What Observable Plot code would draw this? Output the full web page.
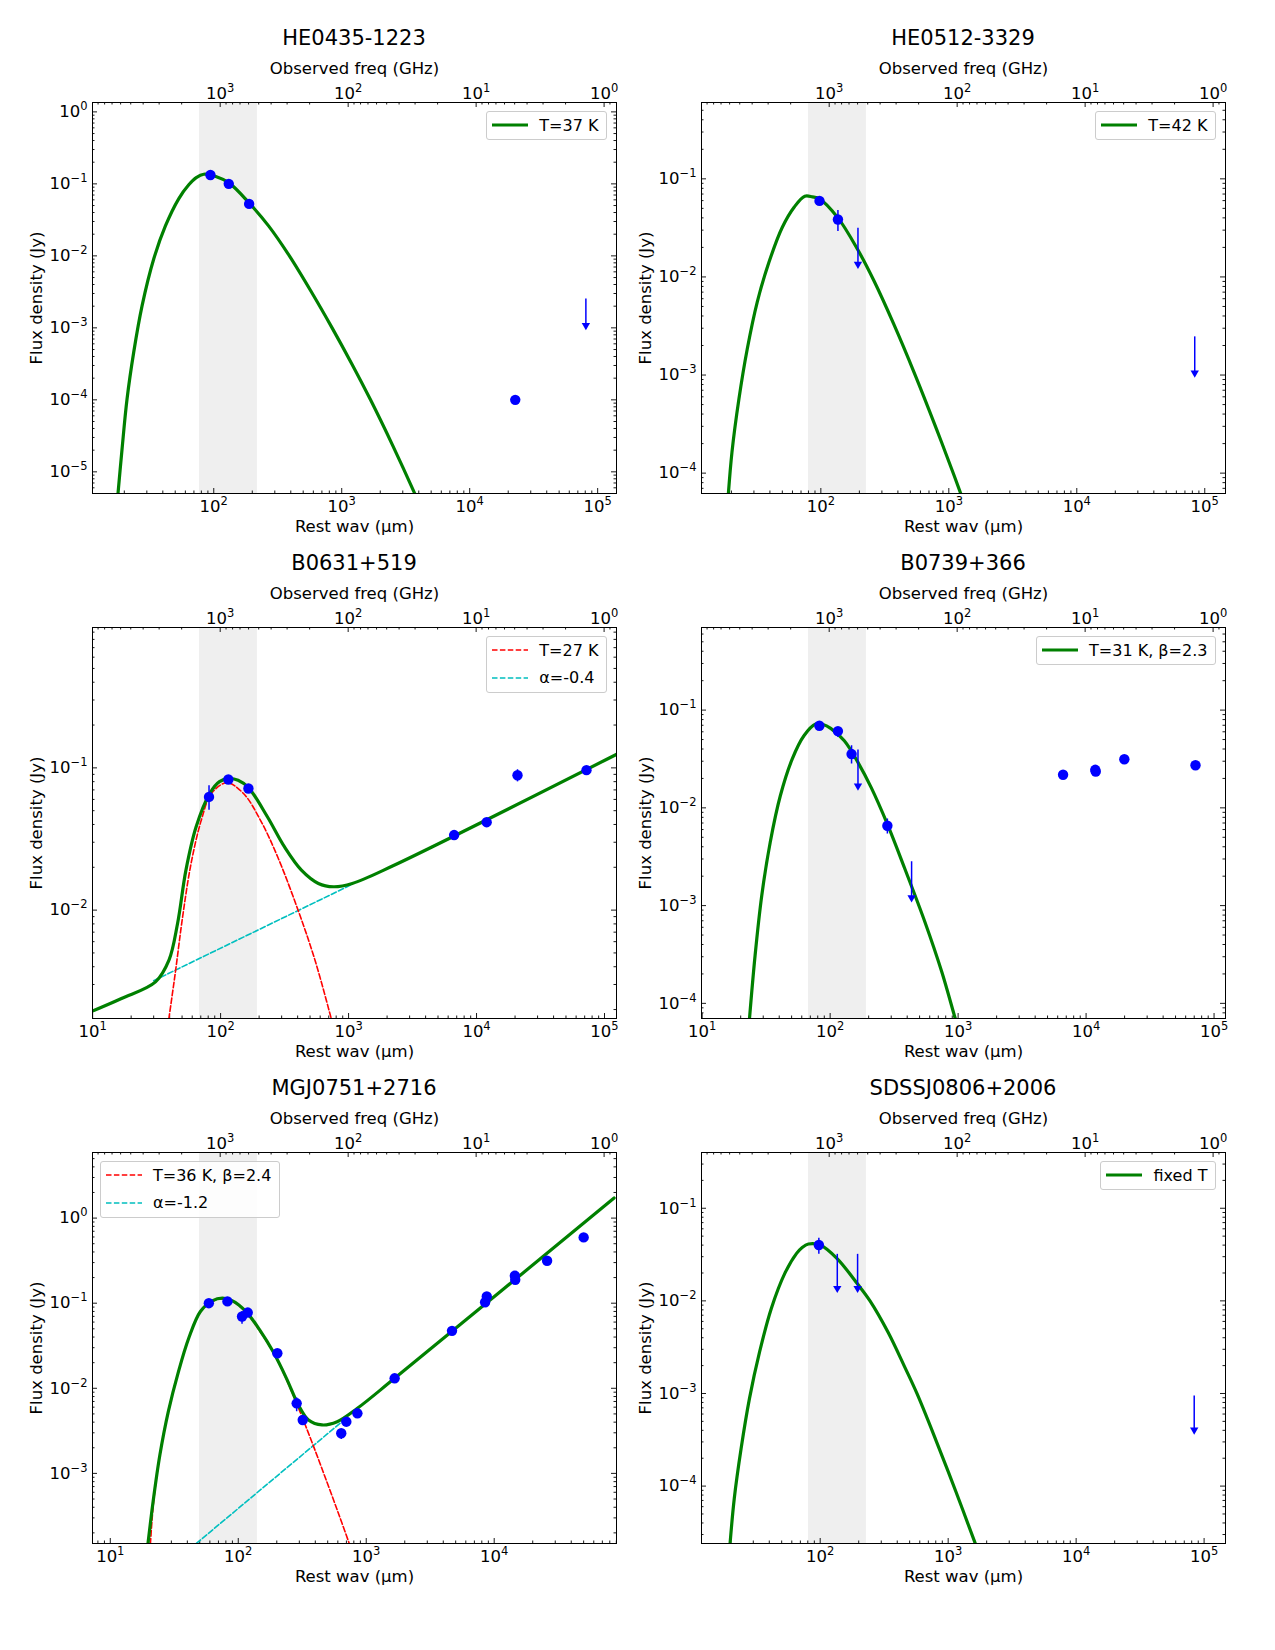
<!DOCTYPE html>
<html>
<head>
<meta charset="utf-8">
<script src="https://cdn.jsdelivr.net/npm/d3@7"></script>
<script src="https://cdn.jsdelivr.net/npm/@observablehq/plot@0.6"></script>
<style>
  body { margin: 0; background: #fff; font-family: "DejaVu Sans", sans-serif; color: #000; }
  #page { position: relative; width: 1275px; height: 1650px; overflow: hidden; }
  .panel { position: absolute; width: 628px; height: 543px; }
  .panel svg.chart { position: absolute; left: 0; top: 47px; overflow: visible; }
  .title { position: absolute; left: 92px; width: 524px; top: 26px; text-align: center;
           font-size: 21px; line-height: 24px; }
  .legend { position: absolute; border: 1px solid #cccccc; border-radius: 3px;
            background: rgba(255,255,255,0.85); padding: 0 8px 0 5px; font-size: 16px; }
  .legend .row { display: flex; align-items: center; height: 27.5px; white-space: nowrap; }
  .legend .row svg { margin-right: 11px; flex: none; }
</style>
</head>
<body>
<div id="page"></div>
<script>
// ---- shared settings -------------------------------------------------------
const sources   = ["HE0435-1223", "HE0512-3329", "B0631+519", "B0739+366", "MGJ0751+2716", "SDSSJ0806+2006"];
const redshifts = [1.67, 1.58, 2.02, 2.05, 3.15, 1.55];
const fluxLimits = [[5e-6, 1.35], [6.2e-5, 0.6], [1.73e-3, 0.97], [7.0e-5, 0.70], [1.5e-4, 5.9], [2.4e-5, 0.40]];
const freqLimits = [9950, 0.8];          // observed GHz, left to right
const freqTicks  = [1000, 100, 10, 1];   // labelled observed-frequency ticks
const bandGHz    = [1450, 512];          // shaded observed band

// ---- HE0435-1223 : [rest µm, Jy, err lo, err hi] ---------------------------
const he0435Det = [[94.2, 0.133], [131, 0.100], [189, 0.0527], [22700, 1.0e-4]];
const he0435Lim = [[80900, 2.52e-3]];
const he0435Fit = [[17.7, 4.2e-6], [19.2, 2.06e-5], [21.0, 1.02e-4], [23.7, 4.6e-4], [27.5, 2.0e-3],
  [34.0, 9.1e-3], [41.9, 0.026], [53.2, 0.062], [63.8, 0.097], [73, 0.122], [83.5, 0.136], [105, 0.126],
  [131, 0.104], [189, 0.0544], [270, 0.0257], [390, 0.0100], [580, 3.15e-3], [841, 1.0e-3],
  [1200, 3.15e-4], [1679, 1.0e-4], [2500, 2.33e-5], [3663, 5.3e-6], [3900, 4.1e-6]];

// ---- HE0512-3329 ----------------------------------------------------------
const he0512Det = [[97.6, 0.0596], [136, 0.0385, 0.029, 0.0475]];
const he0512Lim = [[195, 0.0314], [83500, 2.45e-3]];
const he0512Fit = [[18.8, 5.4e-5], [20.2, 1.63e-4], [22.9, 5.69e-4], [26.6, 1.84e-3], [31.8, 5.51e-3],
  [39.3, 0.0141], [50.0, 0.0321], [61.8, 0.0514], [74.9, 0.0665], [86, 0.0655], [97.6, 0.0625],
  [136, 0.040], [195, 0.0188], [260, 9.14e-3], [370, 3.34e-3], [541, 1.03e-3], [800, 2.83e-4],
  [1102, 9.4e-5], [1256, 5.9e-5], [1320, 4.9e-5]];

// ---- B0631+519 ------------------------------------------------------------
const b0631Det = [[81.2, 0.0625, 0.0504, 0.0748], [115, 0.0828], [165, 0.0716], [6680, 0.0337],
  [12000, 0.0415], [20900, 0.0888, 0.0797, 0.097], [72300, 0.0964]];
const b0631Lim = [];
const b0631Fit = [[9.7, 1.93e-3], [16.8, 2.39e-3], [31.0, 3.13e-3], [39.5, 4.45e-3], [46.1, 8.05e-3],
  [53.6, 0.0191], [64.4, 0.0385], [82.2, 0.066], [98, 0.080], [115, 0.0841], [137, 0.0819],
  [165, 0.0727], [232, 0.0453], [315, 0.0279], [428, 0.0191], [581, 0.0154], [764, 0.0146],
  [1069, 0.0154], [2225, 0.0205], [125300, 0.125]];
const b0631Dust = [[38.6, 1.51e-3], [44.2, 3.59e-3], [50.5, 8.98e-3], [58.8, 0.0213], [70.6, 0.0428],
  [84.8, 0.066], [111.6, 0.0785], [151, 0.066], [205, 0.0428], [279, 0.0237], [403, 0.0100],
  [546, 4.46e-3], [732, 1.73e-3], [755, 1.56e-3]];
const b0631Sync = [[30.0, 3.19e-3], [1038, 0.0150]];

// ---- B0739+366 ------------------------------------------------------------
const b0739Det = [[82.4, 0.0692], [115, 0.061, 0.0525, 0.0665], [147, 0.0355, 0.0281, 0.0432],
  [280, 6.56e-3, 5.4e-3, 7.7e-3], [6610, 0.0218], [11800, 0.0245], [11900, 0.0235],
  [19900, 0.0314], [71600, 0.0273]];
const b0739Lim = [[165, 0.039], [433, 2.81e-3]];
const b0739Fit = [[23.3, 6.4e-5], [25.9, 3.07e-4], [29.2, 1.26e-3], [34.0, 4.43e-3], [40.8, 0.0133],
  [50.5, 0.0315], [62.4, 0.0546], [77.1, 0.0719], [88, 0.0713], [101, 0.065], [129, 0.0485],
  [165, 0.0292], [209, 0.0162], [280, 6.82e-3], [384, 2.37e-3], [552, 6.73e-4], [748, 2.07e-4],
  [941, 7.3e-5], [970, 6.4e-5]];

// ---- MGJ0751+2716 ---------------------------------------------------------
const mgj0751Det = [[58.9, 0.100], [82.3, 0.105], [107, 0.0697, 0.0566, 0.080], [118.6, 0.0776],
  [202, 0.0258], [286, 6.66e-3, 5.3e-3, 7.7e-3], [319, 4.24e-3], [638, 2.96e-3, 2.5e-3, 3.3e-3],
  [699, 4.05e-3], [853, 5.08e-3], [1667, 0.0131], [4680, 0.0473], [8490, 0.1027], [8750, 0.1198],
  [14500, 0.21], [14600, 0.188], [25900, 0.315], [50000, 0.593]];
const mgj0751Lim = [];
const mgj0751Fit = [[19.5, 1.31e-4], [21.6, 4.64e-4], [24.4, 1.64e-3], [28.4, 5.31e-3], [34.1, 0.0157],
  [41.0, 0.0387], [50.6, 0.0798], [62.6, 0.1066], [75.2, 0.1145], [90.2, 0.1066], [115, 0.0798],
  [147, 0.0486], [187, 0.027], [238, 0.0131], [295, 6.37e-3], [354, 4.24e-3], [451, 3.71e-3],
  [593, 4.05e-3], [853, 5.82e-3], [1667, 0.0131], [86500, 1.72]];
const mgj0751Dust = [[20.4, 1.2e-4], [21.8, 4.64e-4], [24.4, 1.64e-3], [28.4, 5.31e-3], [34.1, 0.0157],
  [41.0, 0.0387], [50.6, 0.0790], [62.6, 0.1050], [75.2, 0.1125], [90.2, 0.1045], [115, 0.0780],
  [147, 0.0472], [189, 0.026], [242, 0.012], [304, 5.28e-3], [387, 2.09e-3], [494, 7.85e-4],
  [611, 3.29e-4], [733, 1.53e-4], [760, 1.31e-4]];
const mgj0751Sync = [[42.2, 1.31e-4], [670, 4.24e-3]];

// ---- SDSSJ0806+2006 -------------------------------------------------------
const sdss0806Det = [[97.6, 0.0401, 0.0318, 0.0474]];
const sdss0806Lim = [[136, 0.0318], [196, 0.0318], [83700, 9.4e-4]];
const sdss0806Fit = [[19.6, 2.1e-5], [21.3, 7.3e-5], [24.1, 2.54e-4], [28.0, 8.8e-4], [33.6, 2.81e-3],
  [41.5, 8.28e-3], [52.9, 0.0198], [65.4, 0.0326], [72, 0.0375], [80.9, 0.0411], [100, 0.0401],
  [135, 0.0288], [196, 0.0152], [245, 0.0100], [340, 4.55e-3], [460, 1.90e-3], [570, 1.0e-3],
  [800, 3.16e-4], [1150, 8.7e-5], [1625, 2.42e-5], [1700, 2.05e-5]];

// ---- legend entries -------------------------------------------------------
const legendEntries = [
  [["fit", "T=37 K"]],
  [["fit", "T=42 K"]],
  [["dust", "T=27 K"], ["sync", "α=-0.4"]],
  [["fit", "T=31 K, β=2.3"]],
  [["dust", "T=36 K, β=2.4"], ["sync", "α=-1.2"]],
  [["fit", "fixed T"]]
];

// ---- drawing --------------------------------------------------------------
const C_UM_GHZ = 2.998e5;       // c in µm·GHz
const LIMIT_ARROW = 0.43;       // arrow tip relative to the limit value
const BLUE = "#0000ff", GREEN = "#008000", RED = "#ff0000", CYAN = "#00bfbf";
const DASH = "5.5,2.4";
const LABEL_SIZE = 16.5;
const FRAME_W = 524, FRAME_H = 391;
const M = {left: 92, right: 12, top: 55, bottom: 50};
const COL_LEFT = [92, 701], ROW_TOP = [102, 627, 1152];
const NS = "http://www.w3.org/2000/svg";

const panels = [
  {det: he0435Det, lim: he0435Lim, fit: he0435Fit},
  {det: he0512Det, lim: he0512Lim, fit: he0512Fit},
  {det: b0631Det, lim: b0631Lim, fit: b0631Fit, dust: b0631Dust, sync: b0631Sync},
  {det: b0739Det, lim: b0739Lim, fit: b0739Fit},
  {det: mgj0751Det, lim: mgj0751Lim, fit: mgj0751Fit, dust: mgj0751Dust, sync: mgj0751Sync, legendLeft: true},
  {det: sdss0806Det, lim: sdss0806Lim, fit: sdss0806Fit}
];

const expLabel = v => "10^" + Math.round(Math.log10(v));

function decades([a, b]) {
  const lo = Math.min(a, b), hi = Math.max(a, b), out = [];
  for (let k = Math.ceil(Math.log10(lo) - 1e-9); k <= Math.floor(Math.log10(hi) + 1e-9); k++) out.push(Math.pow(10, k));
  return out;
}
function minors([a, b]) {
  const lo = Math.min(a, b), hi = Math.max(a, b), out = [];
  for (let k = Math.floor(Math.log10(lo)); k <= Math.ceil(Math.log10(hi)); k++)
    for (let m = 2; m <= 9; m++) { const v = m * Math.pow(10, k); if (v >= lo && v <= hi) out.push(v); }
  return out;
}

// inward ticks on the frame edges
function tickRules(xVals, yVals, len, top) {
  const s = {stroke: "#000", strokeWidth: 0.9};
  const marks = [
    Plot.ruleY(yVals, {y: d => d, insetRight: FRAME_W - len, ...s}),
    Plot.ruleY(yVals, {y: d => d, insetLeft: FRAME_W - len, ...s})
  ];
  marks.push(top
    ? Plot.ruleX(xVals, {x: d => d, insetBottom: FRAME_H - len, ...s})
    : Plot.ruleX(xVals, {x: d => d, insetTop: FRAME_H - len, ...s}));
  return marks;
}

// turn "10^k" labels into 10 with a raised exponent
function raiseExponents(svg) {
  svg.querySelectorAll("text").forEach(t => {
    const m = /^10\^(-?\d+)$/.exec(t.textContent);
    if (!m) return;
    t.textContent = "10";
    const ts = document.createElementNS(NS, "tspan");
    ts.setAttribute("dy", "-7");
    ts.setAttribute("font-size", "11.5");
    ts.textContent = m[1].replace("-", "\u2212");
    t.appendChild(ts);
  });
}

function drawPanel(p, i) {
  const zf = 1 + redshifts[i];
  const toRest = f => C_UM_GHZ / (f * zf);
  const xDomain = [toRest(freqLimits[0]), toRest(freqLimits[1])];
  const yDomain = fluxLimits[i];
  const xMaj = decades(xDomain), xMin = minors(xDomain);
  const yMaj = decades(yDomain), yMin = minors(yDomain);
  const fMaj = freqTicks.map(toRest);
  const fMin = minors(freqLimits).map(toRest);
  const errs = p.det.filter(d => d[2] != null);

  const marks = [
    Plot.rect([bandGHz], {x1: d => toRest(d[0]), x2: d => toRest(d[1]), fill: "#efefef"}),
    ...tickRules(xMaj, yMaj, 5, false),
    ...tickRules(xMin, yMin, 2.5, false),
    ...tickRules(fMaj, [], 5, true),
    ...tickRules(fMin, [], 2.5, true)
  ];
  if (p.sync) marks.push(Plot.line(p.sync, {x: d => d[0], y: d => d[1], stroke: CYAN, strokeWidth: 1.6, strokeDasharray: DASH, clip: true}));
  if (p.dust) marks.push(Plot.line(p.dust, {x: d => d[0], y: d => d[1], stroke: RED, strokeWidth: 1.6, strokeDasharray: DASH, curve: "catmull-rom", clip: true}));
  marks.push(
    Plot.line(p.fit, {x: d => d[0], y: d => d[1], stroke: GREEN, strokeWidth: 3.2, curve: "catmull-rom", clip: true}),
    Plot.ruleX(errs, {x: d => d[0], y1: d => d[2], y2: d => d[3], stroke: BLUE, strokeWidth: 1.5}),
    Plot.ruleX(p.lim, {x: d => d[0], y1: d => d[1], y2: d => d[1] * LIMIT_ARROW, stroke: BLUE, strokeWidth: 1.5}),
    Plot.dot(p.lim, {x: d => d[0], y: d => d[1] * LIMIT_ARROW, symbol: "triangle", rotate: 180, r: 3.1, fill: BLUE, stroke: "none"}),
    Plot.dot(p.det, {x: d => d[0], y: d => d[1], r: 5.2, fill: BLUE, stroke: "none"}),
    Plot.frame({stroke: "#000", strokeWidth: 1}),
    // tick labels
    Plot.text(xMaj, {x: d => d, frameAnchor: "bottom", dy: 7, lineAnchor: "top", text: expLabel, fontSize: LABEL_SIZE}),
    Plot.text(fMaj, {x: d => d, frameAnchor: "top", dy: -4, lineAnchor: "bottom", text: d => expLabel(C_UM_GHZ / (d * zf)), fontSize: LABEL_SIZE}),
    Plot.text(yMaj, {y: d => d, frameAnchor: "left", dx: -5, textAnchor: "end", lineAnchor: "middle", text: expLabel, fontSize: LABEL_SIZE}),
    // axis titles
    Plot.text(["Rest wav (μm)"], {text: d => d, frameAnchor: "bottom", dy: 33, textAnchor: "middle", lineAnchor: "middle", fontSize: LABEL_SIZE}),
    Plot.text(["Observed freq (GHz)"], {text: d => d, frameAnchor: "top", dy: -34, textAnchor: "middle", lineAnchor: "middle", fontSize: LABEL_SIZE}),
    Plot.text(["Flux density (Jy)"], {text: d => d, frameAnchor: "left", dx: -56, rotate: -90, textAnchor: "middle", lineAnchor: "middle", fontSize: LABEL_SIZE})
  );

  const svg = Plot.plot({
    width: M.left + FRAME_W + M.right,
    height: M.top + FRAME_H + M.bottom,
    marginLeft: M.left, marginRight: M.right, marginTop: M.top, marginBottom: M.bottom,
    x: {type: "log", domain: xDomain, axis: null},
    y: {type: "log", domain: yDomain, axis: null},
    style: {fontFamily: "DejaVu Sans, sans-serif", fontSize: LABEL_SIZE + "px", color: "#000", background: "transparent", overflow: "visible"},
    marks
  });
  raiseExponents(svg);
  return svg;
}

function sample(kind) {
  const s = document.createElementNS(NS, "svg");
  s.setAttribute("width", 36); s.setAttribute("height", 6);
  const l = document.createElementNS(NS, "line");
  l.setAttribute("x1", 0); l.setAttribute("x2", 36); l.setAttribute("y1", 3); l.setAttribute("y2", 3);
  if (kind === "fit") { l.setAttribute("stroke", GREEN); l.setAttribute("stroke-width", 3.2); }
  else { l.setAttribute("stroke", kind === "dust" ? RED : CYAN); l.setAttribute("stroke-width", 1.6); l.setAttribute("stroke-dasharray", DASH); }
  s.appendChild(l);
  return s;
}

const page = document.getElementById("page");
panels.forEach((p, i) => {
  const col = i % 2, row = Math.floor(i / 2);
  const div = document.createElement("div");
  div.className = "panel";
  div.style.left = (COL_LEFT[col] - M.left) + "px";
  div.style.top = (ROW_TOP[row] - 102) + "px";

  const t = document.createElement("div");
  t.className = "title";
  t.textContent = sources[i];
  div.appendChild(t);

  const svg = drawPanel(p, i);
  svg.classList.add("chart");
  div.appendChild(svg);

  const lg = document.createElement("div");
  lg.className = "legend";
  lg.style.top = (102 + 8.6) + "px";
  if (p.legendLeft) lg.style.left = (M.left + 8) + "px";
  else lg.style.right = (M.right + 8.6) + "px";
  legendEntries[i].forEach(([kind, label]) => {
    const r = document.createElement("div");
    r.className = "row";
    r.appendChild(sample(kind));
    const sp = document.createElement("span");
    sp.textContent = label;
    r.appendChild(sp);
    lg.appendChild(r);
  });
  div.appendChild(lg);
  page.appendChild(div);
});
</script>
</body>
</html>
